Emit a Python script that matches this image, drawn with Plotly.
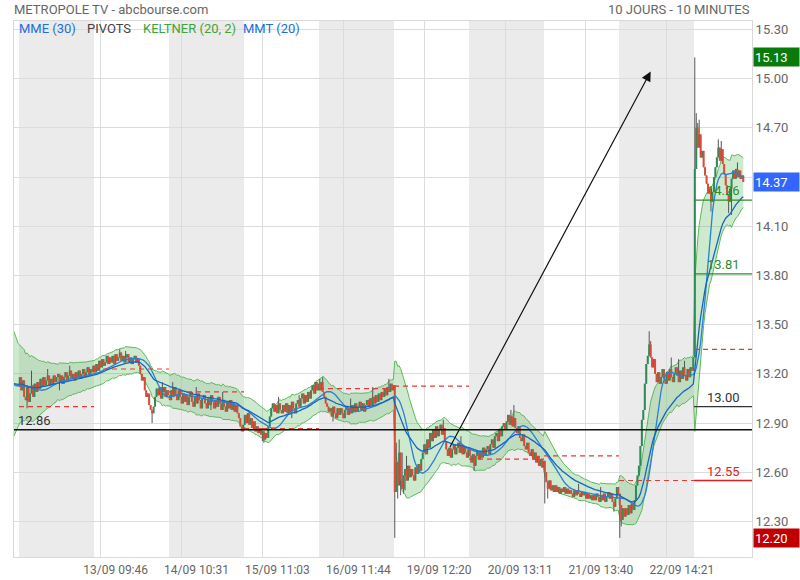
import numpy as np
import pandas as pd
import plotly.graph_objects as go

# ---------------- data ----------------
TITLE = "METROPOLE TV - abcbourse.com"
PERIOD = "10 JOURS - 10 MINUTES"
BARS_PER_DAY = 51

# closes of the 10-minute bars, one list per session (12/09 ... 23/09)
DAY1 = [13.18, 13.10, 13.16, 13.06, 13.04, 13.12, 13.03, 13.08, 13.13, 13.06,
        13.14, 13.09, 13.15, 13.11, 13.17, 13.12, 13.18, 13.13, 13.16, 13.19,
        13.13, 13.17, 13.14, 13.19, 13.15, 13.18, 13.20, 13.15, 13.19, 13.14,
        13.18, 13.21, 13.16, 13.19, 13.22, 13.17, 13.20, 13.16, 13.21, 13.18,
        13.22, 13.17, 13.20, 13.23, 13.18, 13.21, 13.24, 13.19, 13.23, 13.21,
        13.25]
DAY2 = [13.21, 13.26, 13.22, 13.28, 13.24, 13.29, 13.25, 13.27, 13.31, 13.26,
        13.30, 13.27, 13.31, 13.26, 13.32, 13.28, 13.30, 13.33, 13.28, 13.31,
        13.27, 13.30, 13.32, 13.27, 13.30, 13.26, 13.29, 13.31, 13.27, 13.29,
        13.25, 13.20, 13.16, 13.18, 13.10, 13.06, 13.08, 13.01, 12.98, 12.96,
        13.00, 13.06, 13.11, 13.07, 13.12, 13.05, 13.09, 13.12, 13.06, 13.10,
        13.07]
DAY3 = [13.04, 13.10, 13.06, 13.12, 13.07, 13.04, 13.10, 13.06, 13.02, 13.08,
        13.03, 13.07, 13.01, 13.06, 13.09, 13.03, 13.00, 13.06, 13.02, 13.08,
        13.04, 12.99, 13.05, 13.07, 13.02, 12.99, 13.05, 13.01, 13.07, 13.03,
        12.99, 13.04, 13.00, 13.06, 13.02, 12.98, 13.04, 13.00, 12.97, 13.03,
        12.99, 13.04, 12.98, 13.02, 12.97, 13.01, 12.96, 12.93, 12.88, 12.85,
        12.89]
DAY4 = [12.95, 12.90, 12.96, 12.89, 12.93, 12.87, 12.91, 12.85, 12.88, 12.84,
        12.87, 12.83, 12.85, 12.80, 12.84, 12.81, 12.88, 12.94, 12.99, 13.02,
        12.97, 13.01, 12.96, 13.02, 12.98, 12.96, 13.01, 12.97, 13.02, 12.96,
        13.01, 12.97, 13.03, 12.99, 12.96, 13.02, 13.04, 13.00, 13.05, 13.08,
        13.02, 13.07, 13.03, 13.09, 13.05, 13.10, 13.13, 13.08, 13.15, 13.10,
        13.14]
DAY5 = [13.10, 13.15, 13.09, 13.06, 13.02, 13.00, 12.97, 12.99, 12.94, 13.00,
        12.96, 12.93, 12.99, 12.95, 12.99, 12.96, 12.93, 12.98, 13.00, 12.95,
        12.99, 12.96, 13.01, 12.97, 13.02, 12.97, 13.00, 13.03, 12.98, 13.02,
        12.97, 13.01, 13.04, 13.00, 13.05, 13.01, 13.06, 13.02, 13.07, 13.03,
        13.08, 13.04, 13.09, 13.06, 13.11, 13.07, 13.12, 13.09, 13.14, 13.10,
        13.13]
DAY6 = [12.48, 12.66, 12.52, 12.72, 12.55, 12.50, 12.58, 12.62, 12.55, 12.64,
        12.57, 12.62, 12.58, 12.55, 12.63, 12.59, 12.65, 12.61, 12.68, 12.72,
        12.77, 12.71, 12.80, 12.75, 12.84, 12.79, 12.86, 12.81, 12.88, 12.82,
        12.86, 12.89, 12.83, 12.87, 12.79, 12.74, 12.70, 12.75, 12.69, 12.74,
        12.77, 12.71, 12.75, 12.78, 12.72, 12.76, 12.71, 12.76, 12.72, 12.69,
        12.74]
DAY7 = [12.70, 12.66, 12.71, 12.64, 12.70, 12.73, 12.68, 12.73, 12.69, 12.75,
        12.70, 12.74, 12.76, 12.71, 12.77, 12.80, 12.75, 12.82, 12.84, 12.79,
        12.86, 12.82, 12.88, 12.90, 12.86, 12.91, 12.95, 12.89, 12.94, 12.88,
        12.93, 12.87, 12.84, 12.88, 12.81, 12.79, 12.83, 12.76, 12.74, 12.78,
        12.72, 12.70, 12.74, 12.68, 12.72, 12.66, 12.70, 12.64, 12.68, 12.63,
        12.67]
DAY8 = [12.60, 12.54, 12.50, 12.55, 12.49, 12.52, 12.48, 12.52, 12.48, 12.51,
        12.47, 12.50, 12.48, 12.51, 12.47, 12.50, 12.47, 12.49, 12.47, 12.45,
        12.49, 12.46, 12.49, 12.47, 12.45, 12.48, 12.46, 12.48, 12.44, 12.47,
        12.44, 12.46, 12.43, 12.46, 12.43, 12.47, 12.45, 12.42, 12.46, 12.43,
        12.47, 12.42, 12.45, 12.48, 12.44, 12.47, 12.42, 12.39, 12.44, 12.51,
        12.47]
DAY9 = [12.40, 12.31, 12.38, 12.33, 12.38, 12.34, 12.40, 12.35, 12.41, 12.37,
        12.43, 12.52, 12.58, 12.64, 12.76, 12.92, 12.98, 13.14, 13.26, 13.31,
        13.38, 13.30, 13.24, 13.29, 13.20, 13.15, 13.21, 13.14, 13.18, 13.23,
        13.17, 13.14, 13.21, 13.16, 13.23, 13.18, 13.15, 13.20, 13.24, 13.19,
        13.15, 13.22, 13.17, 13.24, 13.19, 13.16, 13.23, 13.18, 13.24, 13.22,
        13.30]
DAY10 = [14.45, 14.70, 14.58, 14.66, 14.52, 14.56, 14.46, 14.41, 14.36, 14.30,
         14.33, 14.25, 14.31, 14.40, 14.46, 14.52, 14.58, 14.50, 14.57, 14.48,
         14.42, 14.35, 14.29, 14.25, 14.33, 14.39, 14.44, 14.39, 14.45, 14.40,
         14.44, 14.39, 14.41, 14.37]
SESSIONS = [DAY1, DAY2, DAY3, DAY4, DAY5, DAY6, DAY7, DAY8, DAY9, DAY10]

# bars just before the first drawn candle (only feed the indicators)
WARMUP_CLOSES = [13.14, 13.10, 13.13, 13.12]
KELTNER_ATR_SEED = 0.16

# visible wicks (bar index -> extreme)
HIGH_WICKS = {8: 13.22, 19: 13.23, 34: 13.25, 68: 13.35, 72: 13.34, 97: 13.15,
              104: 13.15, 120: 13.12, 138: 13.09, 176: 13.06, 190: 13.07,
              204: 13.17, 206: 13.18, 225: 13.05, 240: 13.12, 251: 13.17,
              256: 12.78, 258: 12.80, 260: 12.72, 263: 12.70,
              288: 12.92, 300: 12.82, 334: 12.98, 336: 13.01,
              380: 12.53, 395: 12.51, 428: 13.46, 429: 13.40, 443: 13.30, 448: 13.29,
              452: 13.28, 459: 15.13, 460: 14.79, 461: 14.73, 462: 14.75, 475: 14.63,
              477: 14.62, 488: 14.49}
LOW_WICKS = {5: 12.99, 27: 13.10, 90: 12.90, 130: 12.98, 165: 12.79, 166: 12.78,
             185: 12.93, 213: 12.91, 255: 12.20, 257: 12.44, 259: 12.46, 261: 12.47,
             262: 12.49, 309: 12.61,
             357: 12.41, 359: 12.44, 404: 12.36, 408: 12.20, 409: 12.27,
             470: 14.19, 482: 14.18, 484: 14.17}

# daily pivot level (dashed), one per session
PIVOTS = [13.00, 13.23, 13.09, 12.866, 13.11, 13.125, 12.68, 12.70, 12.55, 13.35]
SUPPORT_LINE = 12.86
TODAY_LEVELS = [("13.00", 13.00, "#333333"), ("12.55", 12.55, "#e02020"),
                ("13.81", 13.81, "#2e8b2e"), ("14.26", 14.26, "#2e8b2e")]

TICK_POS = [55, 110, 165, 220, 275, 330, 385, 440]
TICK_TEXT = ["13/09 09:46", "14/09 10:31", "15/09 11:03", "16/09 11:44",
             "19/09 12:20", "20/09 13:11", "21/09 13:40", "22/09 14:21"]
Y_TICKS = [12.30, 12.60, 12.90, 13.20, 13.50, 13.80, 14.10, 14.40, 14.70, 15.00, 15.30]

LAST_HIGH, LAST_PRICE, LAST_LOW = 15.13, 14.37, 12.20
ARROW_START = (292, 12.745)
ARROW_END = (429, 15.044)

X_RANGE = [-3.9, 497.9]
Y_RANGE = [12.0835, 15.352]

# ---------------- build series ----------------
close = np.array([v for s in SESSIONS for v in s], dtype=float)
n = len(close)
idx = np.arange(n)
opens = np.concatenate([[WARMUP_CLOSES[-1]], close[:-1]])
high = np.maximum(opens, close)
low = np.minimum(opens, close)
for k, v in HIGH_WICKS.items():
    high[k] = max(high[k], v)
for k, v in LOW_WICKS.items():
    low[k] = min(low[k], v)

# indicators over warm-up + bars
wc = np.array(WARMUP_CLOSES)
full_close = np.concatenate([wc, close])
full_high = np.concatenate([wc, high])
full_low = np.concatenate([wc, low])
full_x = np.arange(-len(wc), n)
s = pd.Series(full_close)
mme = s.ewm(span=30, adjust=False).mean().values
mmt = s.rolling(10, min_periods=1).mean().rolling(11, min_periods=1).mean().values
mid = s.ewm(span=20, adjust=False).mean().values
prev = np.concatenate([[full_close[0]], full_close[:-1]])
tr = np.maximum.reduce([full_high - full_low, np.abs(full_high - prev), np.abs(full_low - prev)])
atr = np.zeros_like(tr)
atr[0] = KELTNER_ATR_SEED
for i in range(1, len(tr)):
    atr[i] = atr[i - 1] + (tr[i] - atr[i - 1]) * 2 / 21
upper = mid + 2 * atr
lower = mid - 2 * atr


def segs(xs, y0, y1):
    X, Y = [], []
    for a, b, c in zip(xs, y0, y1):
        X += [a, a, None]
        Y += [b, c, None]
    return X, Y


fig = go.Figure()
# Keltner band
fig.add_trace(go.Scatter(x=full_x, y=upper, mode="lines",
                         line=dict(color="#5cb85c", width=1), hoverinfo="skip"))
fig.add_trace(go.Scatter(x=full_x, y=lower, mode="lines", fill="tonexty",
                         fillcolor="rgba(92,184,92,0.3)",
                         line=dict(color="#5cb85c", width=1), hoverinfo="skip"))
# wicks
wx, wy = segs(idx, low, high)
fig.add_trace(go.Scatter(x=wx, y=wy, mode="lines", line=dict(color="#555555", width=1),
                         hoverinfo="skip"))
# bodies
up = close >= opens
for mask, col in [(up, "#2e8b57"), (~up, "#dc4a3a")]:
    bx, by = segs(idx[mask], opens[mask], close[mask])
    fig.add_trace(go.Scatter(x=bx, y=by, mode="lines", line=dict(color=col, width=2.0),
                             hoverinfo="skip"))
# moving averages
fig.add_trace(go.Scatter(x=full_x, y=mmt, mode="lines", line=dict(color="#2a7fd4", width=1.3),
                         hoverinfo="skip"))
fig.add_trace(go.Scatter(x=full_x, y=mme, mode="lines", line=dict(color="#1565c0", width=1.3),
                         hoverinfo="skip"))

shapes = []
for d in range(0, 10, 2):
    shapes.append(dict(type="rect", xref="x", yref="paper", x0=d * BARS_PER_DAY - 0.5,
                       x1=d * BARS_PER_DAY + BARS_PER_DAY - 0.5, y0=0, y1=1,
                       fillcolor="#ebebeb", line=dict(width=0), layer="below"))
for d, lvl in enumerate(PIVOTS):
    x0 = d * BARS_PER_DAY - 0.5
    x1 = X_RANGE[1] if d == 9 else x0 + BARS_PER_DAY
    shapes.append(dict(type="line", xref="x", yref="y", x0=x0, x1=x1, y0=lvl, y1=lvl,
                       line=dict(color="#e53935", width=1.2, dash="5px,4px"), layer="above"))
shapes.append(dict(type="line", xref="paper", yref="y", x0=0, x1=1, y0=SUPPORT_LINE,
                   y1=SUPPORT_LINE, line=dict(color="#111111", width=1.5), layer="above"))
day10_start = 9 * BARS_PER_DAY - 0.5
for txt, lvl, col in TODAY_LEVELS:
    shapes.append(dict(type="line", xref="x", yref="y", x0=day10_start, x1=X_RANGE[1],
                       y0=lvl, y1=lvl, line=dict(color=col, width=1.3), layer="above"))

ann = []


def px_x(p):
    return (p - 14) / 738


def px_y(p):
    return (557 - p) / 536


FONT = "Roboto, Arial, sans-serif"
ann.append(dict(text=TITLE, xref="paper", yref="paper", x=px_x(12), y=px_y(9),
                xanchor="left", yanchor="middle", showarrow=False,
                font=dict(family=FONT, size=13, color="#666666")))
ann.append(dict(text=PERIOD, xref="paper", yref="paper", x=1, y=px_y(9),
                xanchor="right", yanchor="middle", showarrow=False,
                font=dict(family=FONT, size=13, color="#666666")))
for txt, xp, col in [("MME (30)", 17, "#1e6fd9"), ("PIVOTS", 85, "#444444"),
                     ("KELTNER (20, 2)", 141, "#3ea33e"), ("MMT (20)", 241, "#1e6fd9")]:
    ann.append(dict(text=txt, xref="paper", yref="paper", x=px_x(xp), y=px_y(28),
                    xanchor="left", yanchor="middle", showarrow=False,
                    font=dict(family=FONT, size=13, color=col)))
ann.append(dict(text="12.86", xref="paper", yref="y", x=px_x(16), y=SUPPORT_LINE,
                xanchor="left", yanchor="bottom", showarrow=False,
                font=dict(family=FONT, size=13, color="#333333")))
for txt, lvl, col in TODAY_LEVELS:
    ann.append(dict(text=txt, xref="x", yref="y", x=466, y=lvl, xanchor="left",
                    yanchor="bottom", showarrow=False,
                    font=dict(family=FONT, size=13, color=col)))
for val, bg in [(LAST_HIGH, "#0a7a0a"), (LAST_PRICE, "#3366ff"), (LAST_LOW, "#c00000")]:
    ann.append(dict(text=f"{val:.2f}", xref="paper", yref="y", x=1, y=val, xanchor="left",
                    yanchor="middle", xshift=1, showarrow=False, bgcolor=bg, width=43,
                    height=16, align="left", borderpad=1,
                    font=dict(family=FONT, size=13, color="white")))
ann.append(dict(text="", xref="x", yref="y", x=ARROW_END[0], y=ARROW_END[1],
                axref="x", ayref="y", ax=ARROW_START[0], ay=ARROW_START[1],
                showarrow=True, arrowhead=2, arrowsize=1.6, arrowwidth=1.2,
                arrowcolor="#111111"))

fig.update_layout(
    width=800, height=580, margin=dict(l=14, r=48, t=21, b=23),
    paper_bgcolor="white", plot_bgcolor="white", showlegend=False, hovermode=False,
    shapes=shapes, annotations=ann,
    font=dict(family=FONT, color="#666666"),
    xaxis=dict(range=X_RANGE, tickvals=TICK_POS, ticktext=TICK_TEXT, showgrid=True,
               gridcolor="#dcdcdc", gridwidth=1, zeroline=False, ticks="",
               ticklabelshift=15, ticklabelstandoff=2, automargin=False,
               tickfont=dict(size=12, color="#666666"),
               showline=True, linecolor="#d9d9d9", mirror=True),
    yaxis=dict(range=Y_RANGE, side="right", tickvals=Y_TICKS, automargin=False,
               ticktext=[f"{v:.2f}" for v in Y_TICKS], showgrid=True,
               gridcolor="#dcdcdc", gridwidth=1, zeroline=False, ticks="",
               tickfont=dict(size=13, color="#666666"),
               showline=True, linecolor="#d9d9d9", mirror=True),
)

fig.write_html("out.html", config={"displayModeBar": False},
               post_script="document.body.style.margin='0px';")
